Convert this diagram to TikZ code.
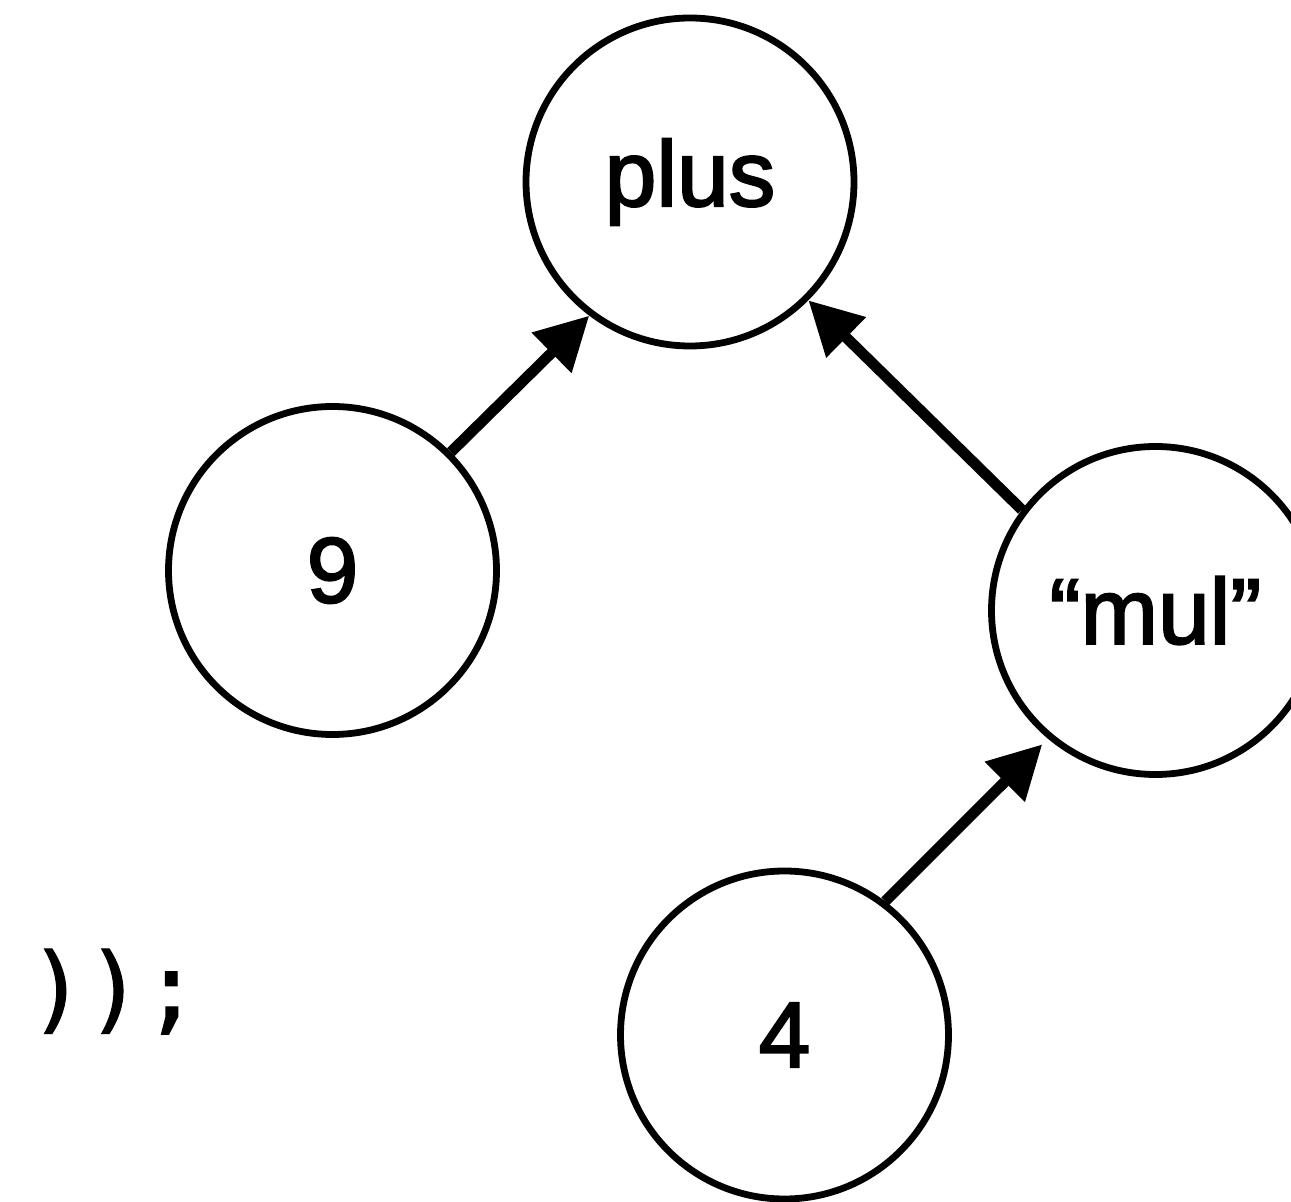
\documentclass[tikz,border=0pt]{standalone}
\usepackage{fontspec}
\setmainfont{Liberation Sans}
\newfontfamily\labelfont[FakeBold=2.2]{Liberation Sans}
\newfontfamily\codefont[FakeBold=1.2]{DejaVu Sans Mono}
\usetikzlibrary{arrows.meta}
\begin{document}
\begin{tikzpicture}[x=0.5pt,y=0.5pt,
  nodec/.style={circle, draw, line width=3.4pt, minimum size=164pt, inner sep=0pt, font=\labelfont\fontsize{46.5}{50}\selectfont},
  arr/.style={line width=5.4pt, -{Triangle[length=26.5pt,width=27pt]}}]
\useasboundingbox (0,0) rectangle (1291,1201);
\node[nodec] (plus) at (690,1019) {plus};
\node[nodec] (nine) at (332.5,630.5) {9};
\node[nodec] (mul) at (1155.5,590.5) {“mul”};
\node[nodec] (four) at (784.5,166) {4};
\node[inner sep=0pt, anchor=base west, font=\codefont\fontsize{47.5}{50}\selectfont] (code) at (28,180) {));};
\draw[arr] (nine.45) -- (plus.233);
\draw[arr] (mul.143) -- (plus.315);
\draw[arr, shorten >=4pt] (four.53) -- (mul.230);
\end{tikzpicture}
\end{document}
